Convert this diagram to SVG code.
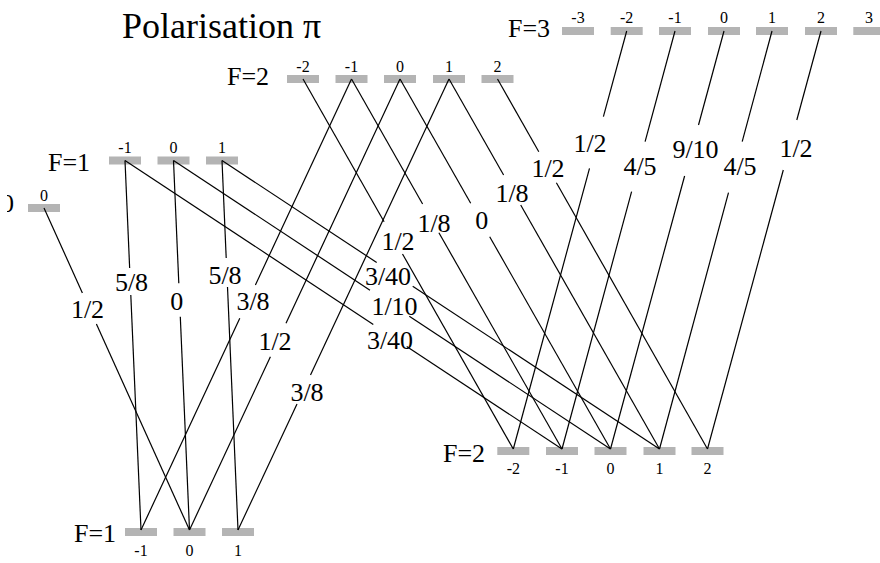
<svg xmlns="http://www.w3.org/2000/svg" width="880" height="563" viewBox="0 0 880 563">
<style>
text{font-family:"Liberation Serif","Times New Roman","DejaVu Serif",serif;fill:#000}
.t{font-size:36px}
.F{font-size:26px}
.m{font-size:16px;text-anchor:middle}
.lb{font-size:26px;text-anchor:middle}
.bar{fill:#b4b4b4}
#connectors line{stroke:#000;stroke-width:1.2;fill:none}
</style>
<defs>
<clipPath id="edge"><rect x="7" y="0" width="873" height="563"/></clipPath>
</defs>
<rect width="880" height="563" fill="#fff"/>
<text class="t" x="122" y="38">Polarisation π</text>

<g id="level-F0-top">
<text class="F" x="14" y="212" text-anchor="end" clip-path="url(#edge)">F=0</text>
<rect class="bar" x="28" y="204" width="32" height="8"/>
<text class="m" x="44" y="200.5">0</text>
</g>

<g id="level-F1-top">
<text class="F" x="48" y="170.5">F=1</text>
<rect class="bar" x="109" y="156.5" width="32" height="8"/>
<rect class="bar" x="157.5" y="156.5" width="32" height="8"/>
<rect class="bar" x="206" y="156.5" width="32" height="8"/>
<text class="m" x="125" y="153">-1</text>
<text class="m" x="173.5" y="153">0</text>
<text class="m" x="222" y="153">1</text>
</g>

<g id="level-F2-top">
<text class="F" x="227" y="85">F=2</text>
<rect class="bar" x="287" y="75" width="32" height="8"/>
<rect class="bar" x="335.5" y="75" width="32" height="8"/>
<rect class="bar" x="384" y="75" width="32" height="8"/>
<rect class="bar" x="433" y="75" width="32" height="8"/>
<rect class="bar" x="481.5" y="75" width="32" height="8"/>
<text class="m" x="303" y="71.5">-2</text>
<text class="m" x="351.5" y="71.5">-1</text>
<text class="m" x="400" y="71.5">0</text>
<text class="m" x="449" y="71.5">1</text>
<text class="m" x="497.5" y="71.5">2</text>
</g>

<g id="level-F3-top">
<text class="F" x="508" y="37">F=3</text>
<rect class="bar" x="562" y="27" width="32" height="8"/>
<rect class="bar" x="610.7" y="27" width="32" height="8"/>
<rect class="bar" x="659" y="27" width="32" height="8"/>
<rect class="bar" x="708" y="27" width="32" height="8"/>
<rect class="bar" x="756" y="27" width="32" height="8"/>
<rect class="bar" x="805" y="27" width="32" height="8"/>
<rect class="bar" x="853.3" y="27" width="32" height="8"/>
<text class="m" x="578" y="23.3">-3</text>
<text class="m" x="626.7" y="23.3">-2</text>
<text class="m" x="675" y="23.3">-1</text>
<text class="m" x="724" y="23.3">0</text>
<text class="m" x="772" y="23.3">1</text>
<text class="m" x="821" y="23.3">2</text>
<text class="m" x="869" y="23.3">3</text>
</g>

<g id="level-F1-bottom">
<text class="F" x="74" y="541.7">F=1</text>
<rect class="bar" x="125" y="528" width="32" height="8"/>
<rect class="bar" x="173.5" y="528" width="32" height="8"/>
<rect class="bar" x="222" y="528" width="32" height="8"/>
<text class="m" x="141" y="556">-1</text>
<text class="m" x="189.5" y="556">0</text>
<text class="m" x="238" y="556">1</text>
</g>

<g id="level-F2-bottom">
<text class="F" x="443" y="461.7">F=2</text>
<rect class="bar" x="497.3" y="447" width="32" height="8"/>
<rect class="bar" x="546" y="447" width="32" height="8"/>
<rect class="bar" x="594.5" y="447" width="32" height="8"/>
<rect class="bar" x="643.5" y="447" width="32" height="8"/>
<rect class="bar" x="691.5" y="447" width="32" height="8"/>
<text class="m" x="513.3" y="474">-2</text>
<text class="m" x="562" y="474">-1</text>
<text class="m" x="610.5" y="474">0</text>
<text class="m" x="659.5" y="474">1</text>
<text class="m" x="707.5" y="474">2</text>
</g>

<g id="connectors">
<line x1="44" y1="208" x2="82.4" y2="293"/><line x1="96.4" y1="324" x2="189.5" y2="530"/>
<line x1="125" y1="160.5" x2="129.65" y2="268"/><line x1="130.8" y1="295" x2="141" y2="530"/>
<line x1="173.5" y1="160.5" x2="178.8" y2="283.3"/><line x1="180.3" y1="316.7" x2="189.5" y2="530"/>
<line x1="222" y1="160.5" x2="226.2" y2="258"/><line x1="227.5" y1="287" x2="238" y2="530"/>
<line x1="351.5" y1="79" x2="255.4" y2="285"/><line x1="239.8" y1="318.3" x2="141" y2="530"/>
<line x1="400" y1="79" x2="286" y2="323.3"/><line x1="270.4" y1="356.7" x2="189.5" y2="530"/>
<line x1="449" y1="79" x2="310.5" y2="375"/><line x1="297" y1="404" x2="238" y2="530"/>
<line x1="125" y1="160.5" x2="373.3" y2="324.4"/><line x1="406.7" y1="346.5" x2="562" y2="449"/>
<line x1="173.5" y1="160.5" x2="370" y2="290.2"/><line x1="409.3" y1="316.2" x2="610.5" y2="449"/>
<line x1="222" y1="160.5" x2="376.7" y2="262.5"/><line x1="412.7" y1="286.2" x2="659.5" y2="449"/>
<line x1="303" y1="79" x2="384.1" y2="221.7"/><line x1="402.5" y1="254" x2="513.3" y2="449"/>
<line x1="351.5" y1="79" x2="422.6" y2="204"/><line x1="438.9" y1="232.7" x2="562" y2="449"/>
<line x1="400" y1="79" x2="470.7" y2="203.3"/><line x1="489.7" y1="236.7" x2="610.5" y2="449"/>
<line x1="449" y1="79" x2="503.6" y2="175"/><line x1="520.7" y1="205" x2="659.5" y2="449"/>
<line x1="497.5" y1="79" x2="538.8" y2="151.7"/><line x1="556.4" y1="182.7" x2="707.5" y2="449"/>
<line x1="626.7" y1="31" x2="603.4" y2="116.7"/><line x1="589.5" y1="168.3" x2="513.3" y2="449"/>
<line x1="675" y1="31" x2="645.1" y2="141.7"/><line x1="631.6" y1="191.7" x2="562" y2="449"/>
<line x1="724" y1="31" x2="698.5" y2="125"/><line x1="684.6" y1="176" x2="610.5" y2="449"/>
<line x1="772" y1="31" x2="742.2" y2="141.7"/><line x1="728.5" y1="192.7" x2="659.5" y2="449"/>
<line x1="821" y1="31" x2="796.8" y2="120"/><line x1="783.3" y1="170" x2="707.5" y2="449"/>
</g>

<g id="labels">
<text class="lb" x="87.5" y="318">1/2</text>
<text class="lb" x="131.5" y="291">5/8</text>
<text class="lb" x="176.7" y="310">0</text>
<text class="lb" x="225" y="283.5">5/8</text>
<text class="lb" x="253" y="310">3/8</text>
<text class="lb" x="275" y="350">1/2</text>
<text class="lb" x="307" y="401">3/8</text>
<text class="lb" x="388" y="285">3/40</text>
<text class="lb" x="394.5" y="315">1/10</text>
<text class="lb" x="390" y="348.5">3/40</text>
<text class="lb" x="398" y="249.5">1/2</text>
<text class="lb" x="434" y="231.7">1/8</text>
<text class="lb" x="481.7" y="228.5">0</text>
<text class="lb" x="512" y="201.7">1/8</text>
<text class="lb" x="548" y="176.7">1/2</text>
<text class="lb" x="590" y="151.7">1/2</text>
<text class="lb" x="640" y="175">4/5</text>
<text class="lb" x="695.5" y="158.3">9/10</text>
<text class="lb" x="740" y="175">4/5</text>
<text class="lb" x="796" y="157">1/2</text>
</g>
</svg>
